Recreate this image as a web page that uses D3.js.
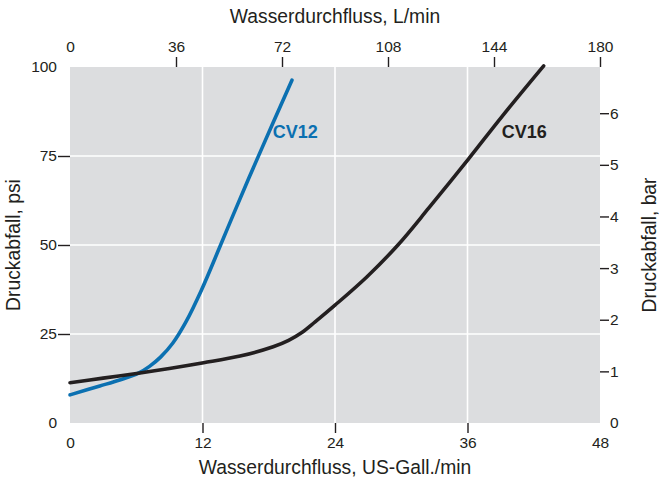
<!DOCTYPE html>
<html>
<head>
<meta charset="utf-8">
<script src="https://cdn.jsdelivr.net/npm/d3@7"></script>
<style>
  html, body { margin: 0; padding: 0; background: #ffffff; }
  svg { display: block; }
  text { font-family: "Liberation Sans", Arial, Helvetica, sans-serif; fill: #231f20; }
</style>
</head>
<body>
<svg id="chart" width="659" height="481"></svg>
<script>
// ---- Data ----
const cv12Flow = [0, 2.7, 4.5, 6.2, 7.2, 8.2, 9.3, 10.5, 11.9, 13.6, 14.8, 16.2, 18.4, 20.1];
const cv12Psi  = [7.9, 10.4, 12.1, 14.0, 15.9, 18.5, 22.4, 28.4, 37.3, 49.7, 58.6, 68.8, 84.4, 96.3];

const cv16Flow = [0, 3, 6.2, 9, 12.1, 15.4, 18.4, 19.8, 21.0, 22.2, 24, 26.9, 29.7, 32.5, 36.1, 39.1, 42.9];
const cv16Psi  = [11.3, 12.6, 14.0, 15.3, 16.9, 18.8, 21.4, 23.2, 25.4, 28.4, 33.1, 41.1, 50, 60.4, 74.2, 86.0, 100.3];

const seriesNames = ["CV12", "CV16"];
const labelFlow = [18.36, 39.1];
const labelPsi = [80, 80];

const galTicks = [0, 12, 24, 36, 48];
const lminTicks = [0, 36, 72, 108, 144, 180];
const psiTicks = [0, 25, 50, 75, 100];
const barTicks = [0, 1, 2, 3, 4, 5, 6];

const titleBottom = "Wasserdurchfluss, US-Gall./min";
const titleTop = "Wasserdurchfluss, L/min";
const titleLeft = "Druckabfall, psi";
const titleRight = "Druckabfall, bar";

// ---- Layout ----
const W = 659, H = 481;
const m = { left: 70, top: 67, right: 59, bottom: 58 };
const pw = W - m.left - m.right;   // 530
const ph = H - m.top - m.bottom;   // 356

const svg = d3.select("#chart");
const g = svg.append("g").attr("transform", `translate(${m.left},${m.top})`);

const x = d3.scaleLinear().domain([0, 48]).range([0, pw]);
const xTop = d3.scaleLinear().domain([0, 180]).range([0, pw]);
const y = d3.scaleLinear().domain([0, 100]).range([ph, 0]);
const PSI_PER_BAR = 14.5038;
const yBar = d3.scaleLinear().domain([0, 100 / PSI_PER_BAR]).range([ph, 0]);

const colors = ["#0b70b1", "#231f20"];

// background
g.append("rect").attr("width", pw).attr("height", ph).attr("fill", "#dcdddf");

// grid
g.selectAll("line.vg").data(galTicks.filter(d => d > 0 && d < 48)).join("line")
  .attr("x1", d => x(d)).attr("x2", d => x(d)).attr("y1", 0).attr("y2", ph)
  .attr("stroke", "#ffffff").attr("stroke-width", 1.6);
g.selectAll("line.hg").data(psiTicks.filter(d => d > 0 && d < 100)).join("line")
  .attr("x1", 0).attr("x2", pw).attr("y1", d => y(d)).attr("y2", d => y(d))
  .attr("stroke", "#ffffff").attr("stroke-width", 1.6);

// axes
const fs = "15.5px";
function styleAxis(sel, keepTick) {
  sel.select(".domain").remove();
  sel.selectAll(".tick line").attr("stroke", "#231f20").attr("stroke-width", 1.4)
    .attr("display", d => keepTick(d) ? null : "none");
  sel.selectAll(".tick text").style("font-size", fs).attr("fill", "#231f20");
}

g.append("g").attr("transform", `translate(0,${ph})`)
  .call(d3.axisBottom(x).tickValues(galTicks).tickSize(10).tickPadding(4).tickFormat(d3.format("d")))
  .call(s => styleAxis(s, d => d > 0 && d < 48));

g.append("g")
  .call(d3.axisTop(xTop).tickValues(lminTicks).tickSize(10).tickPadding(5).tickFormat(d3.format("d")))
  .call(s => styleAxis(s, d => d > 0));

g.append("g")
  .call(d3.axisLeft(y).tickValues(psiTicks).tickSize(12).tickPadding(1).tickFormat(d3.format("d")))
  .call(s => styleAxis(s, d => d > 0 && d < 100));

g.append("g").attr("transform", `translate(${pw},0)`)
  .call(d3.axisRight(yBar).tickValues(barTicks).tickSize(9).tickPadding(1).tickFormat(d3.format("d")))
  .call(s => styleAxis(s, d => d > 0));

// lines
const line = d3.line().x(d => x(d[0])).y(d => y(d[1])).curve(d3.curveCatmullRom.alpha(0.5));
const series = [
  d3.zip(cv12Flow, cv12Psi),
  d3.zip(cv16Flow, cv16Psi)
];
g.selectAll("path.series").data(series).join("path")
  .attr("class", "series")
  .attr("d", line)
  .attr("fill", "none")
  .attr("stroke", (d, i) => colors[i])
  .attr("stroke-width", 3.6)
  .attr("stroke-linecap", "round")
  .attr("stroke-linejoin", "round");

// series labels
g.selectAll("text.lbl").data(seriesNames).join("text")
  .attr("class", "lbl")
  .attr("x", (d, i) => x(labelFlow[i]))
  .attr("y", (d, i) => y(labelPsi[i]))
  .attr("fill", (d, i) => colors[i])
  .style("fill", (d, i) => colors[i])
  .style("font-size", "18px")
  .style("font-weight", "bold")
  .text(d => d);

// axis titles
const tfs = "19.3px";
svg.append("text").attr("x", m.left + pw / 2).attr("y", 474)
  .attr("text-anchor", "middle").style("font-size", tfs).text(titleBottom);
svg.append("text").attr("x", m.left + pw / 2).attr("y", 23)
  .attr("text-anchor", "middle").style("font-size", tfs).text(titleTop);
svg.append("text").attr("transform", `translate(20,${m.top + ph / 2}) rotate(-90)`)
  .attr("text-anchor", "middle").style("font-size", tfs).text(titleLeft);
svg.append("text").attr("transform", `translate(656,${m.top + ph / 2}) rotate(-90)`)
  .attr("text-anchor", "middle").style("font-size", tfs).text(titleRight);
</script>
</body>
</html>
